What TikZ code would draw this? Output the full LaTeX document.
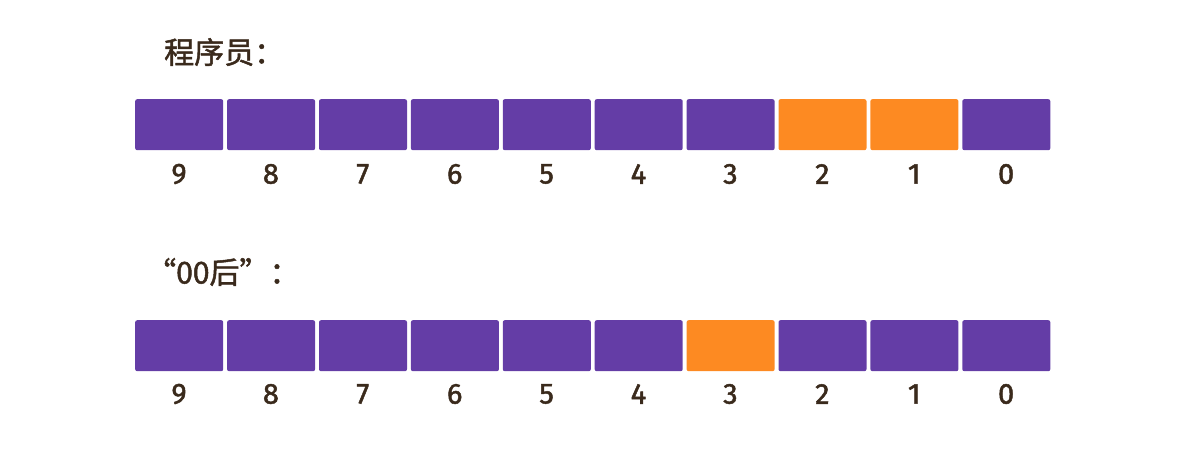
\documentclass[tikz,border=0pt]{standalone}
\usepackage{fontspec}
\setmainfont{Fira Sans}
\newfontfamily\digitfont[FakeBold=1.6]{Fira Sans}
\newfontfamily\cjk[FakeBold=1.6]{Noto Sans CJK SC}
\definecolor{bitpurple}{HTML}{643DA6}
\definecolor{bitorange}{HTML}{FD8A22}
\definecolor{inkbrown}{HTML}{3A2A1C}
\tikzset{
  cell/.style={fill=#1, draw=none, rounded corners=2pt, minimum width=88pt, minimum height=51pt, inner sep=0pt, anchor=north west},
  digit/.style={text=inkbrown, font=\digitfont\fontsize{29}{32}\selectfont, inner sep=0pt},
  title/.style={text=inkbrown, font=\cjk\fontsize{30}{33}\selectfont, inner sep=0pt, anchor=west}
}
\begin{document}
\begin{tikzpicture}[x=1pt,y=-1pt]
\useasboundingbox (0,0) rectangle (1190,456);
\node[title] (t1) at (164,52) {程序员：};
\node[title] (t2) at (146,272) {“00后”：};
\foreach \k/\d/\ca/\cb in {0/9/bitpurple/bitpurple,1/8/bitpurple/bitpurple,2/7/bitpurple/bitpurple,3/6/bitpurple/bitpurple,4/5/bitpurple/bitpurple,5/4/bitpurple/bitpurple,6/3/bitpurple/bitorange,7/2/bitorange/bitpurple,8/1/bitorange/bitpurple,9/0/bitpurple/bitpurple}{
  \node[cell=\ca] (a\d) at ({135+91.9*\k},99) {};
  \node[digit] (da\d) at ({179+91.9*\k},174) {\d};
  \node[cell=\cb] (b\d) at ({135+91.9*\k},320) {};
  \node[digit] (db\d) at ({179+91.9*\k},394) {\d};
}
\end{tikzpicture}
\end{document}
